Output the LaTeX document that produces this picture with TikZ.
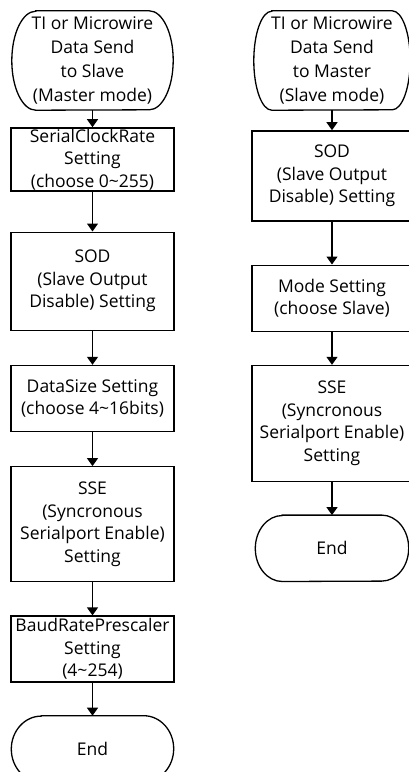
\documentclass[tikz,border=0pt]{standalone}
\usepackage{fontspec}
\setmainfont{Open Sans}
\usetikzlibrary{arrows.meta,positioning}
\tikzset{
  blk/.style={draw, rectangle, line width=1.3pt, inner sep=0pt, align=center, font=\fontsize{17.5}{22.5}\selectfont},
  lblk/.style={blk, minimum width=163pt},
  rblk/.style={blk, minimum width=160pt},
  term/.style={rectangle, inner sep=0pt, align=center, font=\fontsize{17.5}{24}\selectfont},
  arr/.style={-{Triangle[width=11pt,length=8pt]}, line width=1.3pt},
}
% outline of a terminal node: name, x radius, y radius
\newcommand{\termframe}[3]{%
  \draw[line width=1.3pt] ([xshift=#2]#1.north west) -- ([xshift=-#2]#1.north east)
    arc[start angle=90, end angle=-90, x radius=#2, y radius=#3]
    -- ([xshift=#2]#1.south west)
    arc[start angle=270, end angle=90, x radius=#2, y radius=#3] -- cycle;}

\begin{document}
\begin{tikzpicture}[x=1pt, y=1pt]
\useasboundingbox (0,0) rectangle (408,-772);

% left column: master mode
\node[term, minimum width=161pt, minimum height=99pt] (start1) at (92.5,-60.5)
  {TI or Microwire\\Data Send\\to Slave\\(Master mode)};
\node[lblk, minimum height=63pt, below=17pt of start1] (clk)
  {SerialClockRate\\Setting\\(choose 0\textasciitilde255)};
\node[lblk, minimum height=98pt, below=40pt of clk] (sod1)
  {SOD\\(Slave Output\\Disable) Setting};
\node[lblk, minimum height=66pt, below=34pt of sod1] (size)
  {DataSize Setting\\(choose 4\textasciitilde16bits)};
\node[lblk, minimum height=115pt, below=34pt of size] (sse1)
  {SSE\\(Syncronous\\Serialport Enable)\\Setting};
\node[lblk, minimum height=66pt, below=33pt of sse1] (baud)
  {BaudRatePrescaler\\Setting\\(4\textasciitilde254)};
\node[term, minimum width=162pt, minimum height=66pt, below=33pt of baud] (end1) {End};

% right column: slave mode
\node[term, minimum width=156pt, minimum height=99pt] (start2) at (332,-60.5)
  {TI or Microwire\\Data Send\\to Master\\(Slave mode)};
\node[rblk, minimum height=90pt, below=20pt of start2] (sod2)
  {SOD\\(Slave Output\\Disable) Setting};
\node[rblk, minimum height=66pt, below=43pt of sod2] (mode)
  {Mode Setting\\(choose Slave)};
\node[rblk, minimum height=116pt, below=33pt of mode] (sse2)
  {SSE\\(Syncronous\\Serialport Enable)\\Setting};
\node[term, minimum width=153pt, minimum height=66pt, below=33pt of sse2] (end2) {End};

\termframe{start1}{24pt}{49.5pt}
\termframe{end1}{30pt}{33pt}
\termframe{start2}{18pt}{49.5pt}
\termframe{end2}{27pt}{33pt}

\foreach \a/\b in {start1/clk, clk/sod1, sod1/size, size/sse1, sse1/baud, baud/end1,
                   start2/sod2, sod2/mode, mode/sse2, sse2/end2}
  \draw[arr] (\a) -- (\b);

\end{tikzpicture}
\end{document}
